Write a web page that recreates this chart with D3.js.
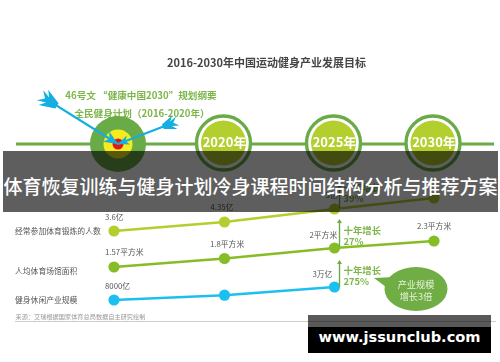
<!DOCTYPE html>
<html>
<head>
<meta charset="utf-8">
<script src="https://cdnjs.cloudflare.com/ajax/libs/d3/7.8.5/d3.min.js"></script>
<style>
  html, body { margin: 0; padding: 0; background: #fff; }
  svg { display: block; font-family: "Noto Sans CJK SC", "Noto Sans", sans-serif; }
</style>
</head>
<body>
<div id="chart"></div>
<script>
const chartTitle = '2016-2030年中国运动健身产业发展目标';
const policyLines = ['46号文   “健康中国2030”规划纲要', '全民健身计划（2016-2020年）'];
const milestones = ['2020年', '2025年', '2030年'];
const years = [2016, 2020, 2025, 2030];

const peopleValues = [3.6, 4.35, 5, 5.6];
const peopleLabels = ['3.6亿', '4.35亿', '5亿', ''];
const areaValues = [1.57, 1.8, 2, 2.3];
const areaLabels = ['1.57平方米', '1.8平方米', '2平方米', '2.3平方米'];
const marketValues = [8000, 13000, 30000];
const marketLabels = ['8000亿', '', '3万亿'];

const rowNames = ['经常参加体育锻炼的人数', '人均体育场馆面积', '健身休闲产业规模'];
const growthTexts = [['十年增长', '39%'], ['十年增长', '27%'], ['十年增长', '275%']];
const bubbleLines = ['产业规模', '增长3倍'];
const sourceText = '来源：艾瑞根据国家体育总局数据自主研究绘制';
const bannerText = '体育恢复训练与健身计划冷身课程时间结构分析与推荐方案';
const siteText = 'www.jssunclub.com';

const width = 500;
const height = 362;
const GREEN = '#69ab47';
const TEXT_GREEN = '#7cb548';
const LIME = '#b2cf2e';
const BLUE = '#12aee0';

const svg = d3.select('#chart').append('svg')
  .attr('width', width)
  .attr('height', height);

// the reference is a soft upscaled screenshot, so the chart part is slightly blurred
const defs = svg.append('defs');
defs.append('filter').attr('id', 'soft')
  .append('feGaussianBlur').attr('stdDeviation', 0.35);

const chart = svg.append('g').attr('filter', 'url(#soft)');

const x = d3.scaleLinear().domain([2016, 2020, 2025, 2030]).range([114, 224.5, 334.5, 434]);

chart.append('text')
  .attr('x', 266.5).attr('y', 67)
  .attr('text-anchor', 'middle')
  .attr('font-size', 11).attr('font-weight', 700).attr('fill', '#444')
  .text(chartTitle);

chart.selectAll('.policy').data(policyLines).enter().append('text')
  .attr('class', 'policy')
  .attr('x', (d, i) => i ? 142 : 141)
  .attr('y', (d, i) => 99 + i * 17.5)
  .attr('text-anchor', 'middle')
  .attr('font-size', 9.6).attr('font-weight', 700).attr('fill', TEXT_GREEN)
  .text(d => d);

// timeline
const lineY = 144;
chart.append('line')
  .attr('x1', 16).attr('x2', 494)
  .attr('y1', lineY).attr('y2', lineY)
  .attr('stroke', GREEN).attr('stroke-width', 3.2);

// target
const target = chart.append('g').attr('transform', `translate(118,${lineY})`);
target.append('circle').attr('r', 28).attr('fill', GREEN);
target.append('circle').attr('r', 14.5).attr('fill', '#f4ec1c');
target.append('circle').attr('r', 5.5).attr('fill', '#e2161c');

// arrows into the target
function drawArrow(x0, y0, len, angle, scale) {
  const g = chart.append('g')
    .attr('transform', `translate(${x0},${y0}) rotate(${angle}) scale(${scale})`);
  g.append('line').attr('x1', 0).attr('x2', -len).attr('y1', 0).attr('y2', 0)
    .attr('stroke', BLUE).attr('stroke-width', 2.2 / scale);
  g.append('path')
    .attr('d', d3.line()([[0, 0], [-14, -6], [-10, 0], [-14, 6]]))
    .attr('fill', BLUE);
  g.append('path')
    .attr('d', d3.line()([[-len + 14, -3], [-len - 2, -9], [-len + 3, -3], [-len - 6, -6], [-len, 0],
      [-len - 6, 6], [-len + 3, 3], [-len - 2, 9], [-len + 14, 3]]))
    .attr('fill', BLUE);
}
drawArrow(118, 144, 86, 32, 1);
drawArrow(118, 144, 74, 159, 0.8);

// milestone rings
const rings = chart.selectAll('.ring').data(milestones).enter().append('g')
  .attr('class', 'ring')
  .attr('transform', (d, i) => `translate(${x(years[i + 1]) - 1},${lineY - 1})`);
rings.append('circle').attr('r', 27).attr('fill', '#fff')
  .attr('stroke', GREEN).attr('stroke-width', 3.4);
rings.append('circle').attr('r', 22.5).attr('fill', LIME);
rings.append('text')
  .attr('x', 1)
  .attr('y', 4)
  .attr('text-anchor', 'middle')
  .attr('font-size', 13).attr('font-weight', 700).attr('fill', '#fff')
  .text(d => d);

// indicator rows; each has its own value scale
const rows = [
  {
    values: peopleValues, labels: peopleLabels, color: '#b2cf2e',
    y: d3.scaleLinear().domain(peopleValues).range([231, 222, 209, 198]),
  },
  {
    values: areaValues, labels: areaLabels, color: '#86bc25',
    y: d3.scaleLinear().domain(areaValues).range([267, 258.5, 248, 241]),
  },
  {
    values: marketValues, labels: marketLabels, color: '#1fc0f0',
    y: d3.scaleLog().domain([8000, 30000]).range([300, 287]),
  },
];

const rowLabelY = [234, 274, 303];
chart.selectAll('.row-name').data(rowNames).enter().append('text')
  .attr('class', 'row-name')
  .attr('x', 15)
  .attr('y', (d, i) => rowLabelY[i])
  .attr('font-size', 7.8).attr('fill', '#555')
  .text(d => d);

// value label offsets from their point, by row then by point
const labelDx = [[-9, -14, -9], [-9, -14.5, -25, -17], [-9, 0, -22]];
const labelDy = [[-11, -12, -11], [-12, -11.5, -10, -12], [-11, 0, -10]];
rows.forEach((row, r) => {
  const pts = row.values.map((v, i) => [x(years[i]), row.y(v)]);
  chart.append('path')
    .attr('d', d3.line()(pts))
    .attr('fill', 'none')
    .attr('stroke', row.color).attr('stroke-width', 2.4);
  chart.selectAll(`.dot${r}`).data(pts).enter().append('circle')
    .attr('class', `dot${r}`)
    .attr('cx', d => d[0]).attr('cy', d => d[1])
    .attr('r', 5.6).attr('fill', row.color);
  chart.selectAll(`.val${r}`).data(pts).enter().append('text')
    .attr('class', `val${r}`)
    .attr('x', (d, i) => d[0] + (labelDx[r][i] || 0))
    .attr('y', (d, i) => d[1] + (labelDy[r][i] || 0))
    .attr('font-size', 7.8).attr('fill', '#555')
    .text((d, i) => row.labels[i]);
});

// growth arrows and captions
const growthX = 339.5;
const growthTop = [183, 219, 260];
const growthBottom = [208, 247, 287];
const growthTextY = [191, 234, 274];
growthTexts.forEach((lines, i) => {
  chart.append('line')
    .attr('x1', growthX).attr('x2', growthX)
    .attr('y1', growthBottom[i]).attr('y2', growthTop[i] + 3)
    .attr('stroke', GREEN).attr('stroke-width', 1.4);
  chart.append('path')
    .attr('d', d3.line()([[growthX - 2.5, growthTop[i] + 4], [growthX, growthTop[i]], [growthX + 2.5, growthTop[i] + 4]]))
    .attr('fill', GREEN);
  chart.selectAll(`.g${i}`).data(lines).enter().append('text')
    .attr('class', `g${i}`)
    .attr('x', 343.5)
    .attr('y', (d, j) => growthTextY[i] + j * 11)
    .attr('font-size', 9.4).attr('font-weight', 700).attr('fill', TEXT_GREEN)
    .text(d => d);
});

// bubble
const bubble = chart.append('g');
bubble.append('ellipse')
  .attr('cx', 416).attr('cy', 289).attr('rx', 31.5).attr('ry', 22)
  .attr('fill', '#6fae45');
bubble.append('path')
  .attr('d', d3.line()([[374, 278], [395, 277], [390, 290]]))
  .attr('fill', '#6fae45');
bubble.selectAll('text').data(bubbleLines).enter().append('text')
  .attr('x', 416)
  .attr('y', (d, i) => 288 + i * 12)
  .attr('text-anchor', 'middle')
  .attr('font-size', 9.2).attr('fill', '#e8f2dc')
  .text(d => d);

// source and rule
chart.append('text')
  .attr('x', 15.5).attr('y', 318.5)
  .attr('font-size', 6.2).attr('fill', '#999')
  .text(sourceText);
chart.append('line')
  .attr('x1', 15).attr('x2', 496)
  .attr('y1', 321.5).attr('y2', 321.5)
  .attr('stroke', '#ccc').attr('stroke-width', 1);

// overlays sitting on top of the chart
svg.append('rect')
  .attr('x', 3).attr('y', 151).attr('width', 495).attr('height', 61)
  .attr('fill', '#000').attr('fill-opacity', 0.63);
svg.append('text')
  .attr('x', 250.5).attr('y', 194)
  .attr('text-anchor', 'middle')
  .attr('font-size', 19).attr('font-weight', 500).attr('fill', '#fff')
  .text(bannerText);

svg.append('rect')
  .attr('x', 308).attr('y', 315).attr('width', 183).attr('height', 12)
  .attr('fill', '#000').attr('fill-opacity', 0.65);
svg.append('rect')
  .attr('x', 308).attr('y', 327).attr('width', 183).attr('height', 26)
  .attr('fill', '#000');
svg.append('text')
  .attr('x', 399.5).attr('y', 342)
  .attr('text-anchor', 'middle')
  .attr('font-family', '"DejaVu Sans", sans-serif')
  .attr('font-size', 14.6).attr('font-weight', 700).attr('fill', '#fff')
  .text(siteText);
</script>
</body>
</html>
